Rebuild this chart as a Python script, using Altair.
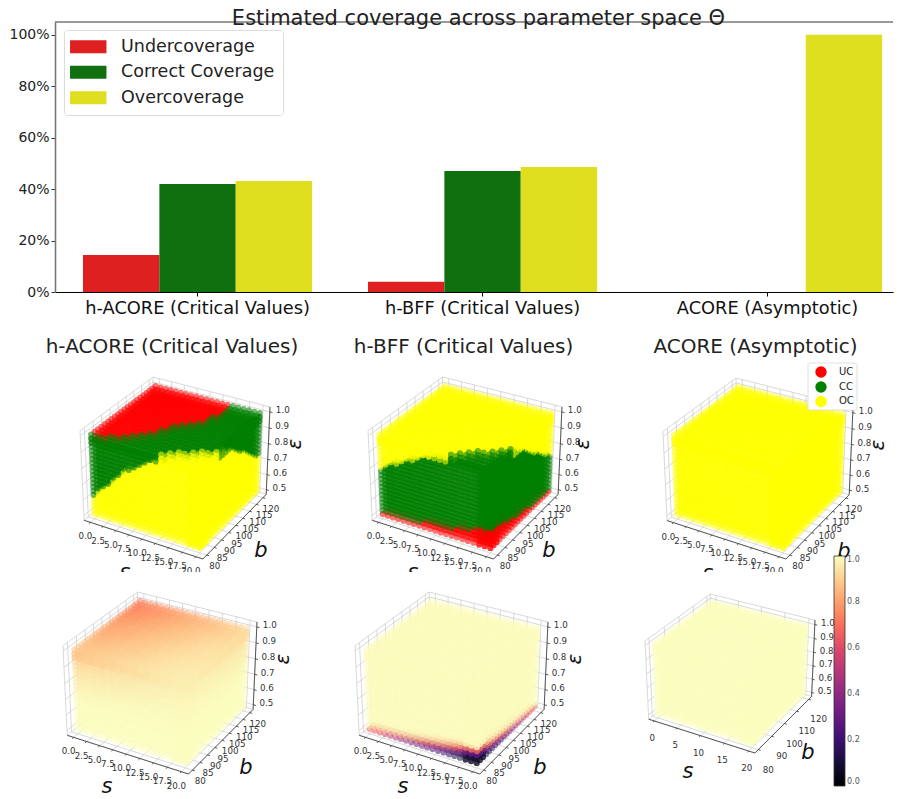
import math
import altair as alt
import numpy as np
import pandas as pd

# ---------- bar chart values ----------
METHODS = ["h-ACORE (Critical Values)", "h-BFF (Critical Values)", "ACORE (Asymptotic)"]
COVERAGE = ["Undercoverage", "Correct Coverage", "Overcoverage"]
BAR_COLORS = ["#df2020", "#107010", "#dfdf20"]
UNDER = [14.4, 4.0, 0.0]
CORRECT = [42.0, 47.1, 0.0]
OVER = [43.2, 48.6, 100.0]

# ---------- parameter grid ----------
S_GRID = [float(i) for i in range(21)]
B_GRID = [80.0 + 2 * i for i in range(21)]
E_GRID = [0.5 + 0.025 * i for i in range(21)]

# ---------- h-ACORE class boundaries ----------
P1_UC_TOP_B = [80, 80.8, 81.6, 82.5, 83.5, 85, 86.5, 89, 91.5, 94, 98, 100, 103, 105.5, 110, 125, 125, 125, 125, 125, 125]
P1_OC_TOP_B = [0, 0, 0, 0, 0, 0, 0, 0, 0, 0, 0, 0, 0, 80.5, 83, 84.5, 85.5, 87, 88.5, 90, 92]
P1_OC_LEFT_E = [.615, .655, .69, .725, .76, .795, .83, .85, .87, .895, .92, .94, .965, .99, 1.01, 1.01, 1.01, 1.01, 1.01, 1.01, 1.01]
P1_OC_RIGHT_E = [1.01, 1.01, 1.01, 1.01, 1.01, 1.01, 1.01, .985, .97, .955, .94, .92, .90, .875, .86, .84, .82, .79, .765, .745, .73]
# ---------- h-BFF class boundaries ----------
P2_CC_TOP_B = [0, 0, 0, 0, 0, 0, 0, 0, 0, 0, 0, 0, 0, 81, 83, 85, 86.5, 88, 89.5, 91, 92.5]
P2_OC_LEFT_E = [.785, .805, .825, .84, .86, .875, .89, .905, .925, .94, .955, .965, .975, .985, .995, 1.01, 1.01, 1.01, 1.01, 1.01, 1.01]
P2_OC_RIGHT_E = [1.01, 1.01, 1.01, 1.01, 1.01, 1.01, 1.01, .985, .965, .945, .925, .905, .885, .865, .85, .83, .81, .79, .77, .75, .735]
P2_UC_LEFT_E = [.515, .515, .515, .52, .52, .52, .525, .525, .53, .53, .535, .54, .54, .55, .555, .56, .57, .58, .59, .60, .61]
P2_UC_RIGHT_E = [.61, .60, .595, .585, .58, .575, .565, .56, .55, .545, .54, .535, .53, .525, .525, .52, .52, .515, .515, .51, .51]

# ---------- estimated coverage values (magma field) ----------
P4_TOP = [  # rows b = 80, 84 .. 120, columns s = 0, 2 .. 20
    [.88, .89, .90, .91, .92, .93, .94, .95, .96, .965, .97],
    [.87, .88, .89, .90, .91, .925, .935, .945, .955, .96, .965],
    [.855, .865, .88, .89, .90, .915, .925, .94, .95, .955, .96],
    [.84, .85, .865, .88, .89, .905, .92, .93, .945, .95, .955],
    [.825, .84, .85, .865, .88, .895, .91, .925, .935, .945, .95],
    [.81, .825, .84, .855, .87, .885, .90, .915, .93, .94, .945],
    [.795, .81, .825, .84, .86, .875, .89, .905, .92, .93, .94],
    [.78, .795, .81, .83, .845, .865, .88, .895, .91, .92, .935],
    [.765, .78, .80, .815, .835, .85, .87, .885, .90, .915, .93],
    [.75, .77, .785, .805, .825, .84, .86, .875, .89, .91, .925],
    [.74, .755, .775, .795, .815, .83, .85, .865, .885, .90, .92],
]
P4_FADE = [0, 0, 0, 0, 0, 0, 0, .03, .06, .1, .15, .2, .27, .33, .42, .5, .6, .7, .8, .9, 1]
P5_BODY = 0.995
P5_LEFT_ROWS = [
    [.70, .66, .62, .58, .54, .50, .46, .42, .38, .34, .31, .28, .25, .22, .19, .16, .13, .11, .09, .07, .05],
    [.98, .97, .96, .95, .94, .92, .90, .88, .85, .80, .74, .68, .62, .55, .48, .40, .33, .26, .20, .15, .10],
    [1, 1, 1, 1, 1, 1, 1, .99, .99, .98, .97, .95, .93, .90, .85, .78, .70, .60, .50, .40, .30],
    [1, 1, 1, 1, 1, 1, 1, 1, 1, 1, 1, .99, .99, .98, .96, .93, .90, .85, .80, .75, .68],
]
P5_RIGHT_ROWS = [
    [.05, .07, .09, .11, .14, .16, .19, .22, .25, .29, .33, .37, .41, .45, .49, .53, .57, .60, .64, .68, .74],
    [.10, .16, .22, .30, .38, .46, .53, .60, .66, .72, .78, .83, .87, .90, .93, .95, .97, .98, .99, 1, 1],
    [.30, .42, .55, .68, .78, .85, .90, .94, .97, .99, 1, 1, 1, 1, 1, 1, 1, 1, 1, 1, 1],
    [.68, .78, .86, .92, .96, .99, 1, 1, 1, 1, 1, 1, 1, 1, 1, 1, 1, 1, 1, 1, 1],
]

# ---------- box ranges and ticks ----------
S_RANGE = (-1.25, 21.25)
B_RANGE = (77.5, 122.5)
E_RANGE = (0.469, 1.031)
S_TICKS = [0, 2.5, 5, 7.5, 10, 12.5, 15, 17.5, 20]
B_TICKS = [80, 85, 90, 95, 100, 105, 110, 115, 120]
E_TICKS = [0.5, 0.6, 0.7, 0.8, 0.9, 1.0]
S_TICKS_COARSE = [0, 5, 10, 15, 20]
B_TICKS_COARSE = [80, 90, 100, 110, 120]

# ---------- page layout, in page pixels ----------
PLOT_X0, PLOT_X1 = 55, 893
PLOT_Y0, PLOT_Y1 = 21, 291
CANVAS_Y1 = 795
FRAMES = {  # x-left, x-right, y-top, y-bottom of each 3D box
    "p1": (80, 270, 376, 558),
    "p2": (368, 562, 376, 558),
    "p3": (663, 853, 377, 558),
    "p4": (63, 257, 591, 773),
    "p5": (355, 548, 591, 773),
    "p6": (645, 815, 593, 752),
}
SUBTITLES = [("h-ACORE (Critical Values)", 172), ("h-BFF (Critical Values)", 463.5), ("ACORE (Asymptotic)", 755.5)]

# ---------- matplotlib style 3D camera ----------
ASPECT = np.array([4, 4, 3]) * 1.8294640721620434 / math.sqrt(41)
R_C = ASPECT / 2
ELEV, AZIM = math.radians(30), math.radians(-60)
EYE = R_C + 10 * np.array([math.cos(ELEV) * math.cos(AZIM), math.cos(ELEV) * math.sin(AZIM), math.sin(ELEV)])
W_V = (EYE - R_C) / np.linalg.norm(EYE - R_C)
U_V = np.cross([0, 0, 1], W_V)
U_V = U_V / np.linalg.norm(U_V)
V_V = np.cross(W_V, U_V)


def raw(nx, ny, nz):
    p = np.array([nx, ny, nz]) * ASPECT - EYE
    d = -p.dot(W_V)
    return p.dot(U_V) / d, p.dot(V_V) / d, d


CORNERS = [raw(a, b, c) for a in (0, 1) for b in (0, 1) for c in (0, 1)]
UMIN, UMAX = min(c[0] for c in CORNERS), max(c[0] for c in CORNERS)
VMIN, VMAX = min(c[1] for c in CORNERS), max(c[1] for c in CORNERS)


def to_page(frame, s, b, e):
    x0, x1, y0, y1 = FRAMES[frame]
    u, v, d = raw((s - S_RANGE[0]) / (S_RANGE[1] - S_RANGE[0]),
                  (b - B_RANGE[0]) / (B_RANGE[1] - B_RANGE[0]),
                  (e - E_RANGE[0]) / (E_RANGE[1] - E_RANGE[0]))
    return x0 + (u - UMIN) / (UMAX - UMIN) * (x1 - x0), y1 - (v - VMIN) / (VMAX - VMIN) * (y1 - y0), d


def shell(frame, color_of, inset=(0, 1, 2)):
    """points on the three visible faces, plus inner copies; color_of(face, i, j) gives the class or value"""
    out = []
    n = len(S_GRID)
    for k in inset:
        rows = []
        for i in range(n):
            for j in range(n):
                rows.append(("top", i, j, S_GRID[i], B_GRID[j], E_GRID[n - 1 - k]))
        for i in range(n):
            for j in range(n - 1 - k):
                rows.append(("left", i, j, S_GRID[i], B_GRID[k], E_GRID[j]))
        for i in range(n):
            for j in range(n - 1 - k):
                rows.append(("right", i, j, S_GRID[n - 1 - k], B_GRID[i], E_GRID[j]))
        for face, i, j, s, b, e in rows:
            x, y, d = to_page(frame, s, b, e)
            out.append(dict(x=round(x, 1), y=round(y, 1), d=round(d, 4), v=color_of(face, i, j)))
    out.sort(key=lambda r: -r["d"])
    return [dict(x=r["x"], y=r["y"], v=r["v"]) for r in out]


RED, GREEN, YELLOW = "#ff0000", "#008000", "#ffff00"


def p1_class(face, i, j):
    if face == "top":
        if B_GRID[j] > P1_UC_TOP_B[i]:
            return RED
        if B_GRID[j] < P1_OC_TOP_B[i]:
            return YELLOW
        return GREEN
    if face == "left":
        return YELLOW if E_GRID[j] < P1_OC_LEFT_E[i] else GREEN
    return YELLOW if E_GRID[j] < P1_OC_RIGHT_E[i] else GREEN


def p2_class(face, i, j):
    if face == "top":
        return GREEN if B_GRID[j] < P2_CC_TOP_B[i] else YELLOW
    e = E_GRID[j]
    if face == "left":
        return RED if e < P2_UC_LEFT_E[i] else (YELLOW if e > P2_OC_LEFT_E[i] else GREEN)
    return RED if e < P2_UC_RIGHT_E[i] else (YELLOW if e > P2_OC_RIGHT_E[i] else GREEN)


def p4_value(face, i, j):
    if face == "top":
        return P4_TOP[j // 2][i // 2]
    if face == "left":
        return 1 - (1 - P4_TOP[0][i // 2]) * P4_FADE[j]
    return 1 - (1 - P4_TOP[i // 2][10]) * P4_FADE[j]


def p5_value(face, i, j):
    if face == "top" or j >= 4:
        return P5_BODY
    return P5_LEFT_ROWS[j][i] if face == "left" else P5_RIGHT_ROWS[j][i]


def fmt(v):
    return f"{v:.1f}"


def box_parts(frame, sticks, bticks, fs=8.7, sfmt=fmt, blabel_off=(8, 11), slabel_off=(-5, 14)):
    grid, axes, texts = [], [], []
    s0, s1 = S_RANGE
    b0, b1 = B_RANGE
    e0, e1 = E_RANGE

    def seg(store, p, q):
        a, b_, _ = to_page(frame, *p)
        c, d, _ = to_page(frame, *q)
        store.append(dict(x=round(a, 1), y=round(b_, 1), x2=round(c, 1), y2=round(d, 1)))

    # pane outlines
    for p, q in [((s0, b0, e0), (s1, b0, e0)), ((s1, b0, e0), (s1, b1, e0)), ((s0, b0, e0), (s0, b1, e0)),
                 ((s0, b1, e0), (s1, b1, e0)), ((s0, b0, e0), (s0, b0, e1)), ((s0, b1, e0), (s0, b1, e1)),
                 ((s1, b1, e0), (s1, b1, e1)), ((s0, b0, e1), (s0, b1, e1)), ((s0, b1, e1), (s1, b1, e1))]:
        seg(grid, p, q)
    for s in sticks:
        seg(grid, (s, b0, e0), (s, b1, e0))
        seg(grid, (s, b1, e0), (s, b1, e1))
        seg(axes, (s, b0, e0), (s, b0 - 0.9, e0))
        x, y, _ = to_page(frame, s, b0, e0)
        texts.append(dict(x=x + slabel_off[0], y=y + slabel_off[1], t=sfmt(s), fs=fs, a=0))
    for b in bticks:
        seg(grid, (s0, b, e0), (s1, b, e0))
        seg(grid, (s0, b, e0), (s0, b, e1))
        seg(axes, (s1, b, e0), (s1 + 0.45, b, e0))
        x, y, _ = to_page(frame, s1, b, e0)
        texts.append(dict(x=x + blabel_off[0], y=y + blabel_off[1], t=str(b), fs=fs, a=0))
    for e in E_TICKS:
        seg(grid, (s0, b0, e), (s0, b1, e))
        seg(grid, (s0, b1, e), (s1, b1, e))
        seg(axes, (s1, b1, e), (s1 + 0.5, b1, e))
        x, y, _ = to_page(frame, s1, b1, e)
        texts.append(dict(x=x + 13, y=y - 1.5, t=fmt(e), fs=fs, a=0))
    seg(axes, (s0, b0, e0), (s1, b0, e0))
    seg(axes, (s1, b0, e0), (s1, b1, e0))
    seg(axes, (s1, b1, e0), (s1, b1, e1))
    return grid, axes, texts


def panel_labels(frame, sx, sy, bx, by, ex, ey):
    x0 = FRAMES[frame][0]
    y0 = FRAMES[frame][2]
    return [dict(x=x0 + sx, y=y0 + sy, t="s", fs=21, a=0), dict(x=x0 + bx, y=y0 + by, t="b", fs=21, a=0),
            dict(x=x0 + ex, y=y0 + ey, t="ε", fs=20, a=270)]


# ---------- assemble tables ----------
rows = {1: dict(grid=[], axes=[], text=[], label=[]), 2: dict(grid=[], axes=[], text=[], label=[])}
for frame, row, st, bt, kw in [
    ("p1", 1, S_TICKS, B_TICKS, {}), ("p2", 1, S_TICKS, B_TICKS, {}), ("p3", 1, S_TICKS, B_TICKS, {}),
    ("p4", 2, S_TICKS, B_TICKS, {}), ("p5", 2, S_TICKS, B_TICKS, {}),
    ("p6", 2, S_TICKS_COARSE, B_TICKS_COARSE, dict(sfmt=lambda v: str(int(v)), blabel_off=(10, 20), slabel_off=(-2, 17))),
]:
    g, a, t = box_parts(frame, st, bt, **kw)
    rows[row]["grid"] += g
    rows[row]["axes"] += a
    rows[row]["text"] += t

rows[1]["label"] += panel_labels("p1", 45, 196, 181, 174, 215, 67)
rows[1]["label"] += panel_labels("p2", 45, 196, 181, 174, 215, 67)
rows[1]["label"] += panel_labels("p3", 45, 196, 181, 174, 215, 67)
rows[2]["label"] += panel_labels("p4", 44, 195, 183, 176, 220, 67)
rows[2]["label"] += panel_labels("p5", 48, 195, 185, 176, 220, 67)
rows[2]["label"] += panel_labels("p6", 43, 178, 163, 159, 0, -999)
rows[2]["label"] = [r for r in rows[2]["label"] if r["y"] > 0]

points_top = (shell("p1", p1_class) + shell("p2", p2_class) + shell("p3", lambda f, i, j: YELLOW))
points_low = (shell("p4", p4_value) + shell("p5", p5_value) + shell("p6", lambda f, i, j: 1.0))

# ---------- canvas scales: one unit is one page pixel ----------
CANVAS_W = PLOT_X1 - PLOT_X0
CANVAS_H = CANVAS_Y1 - PLOT_Y1
XS = alt.Scale(domain=[PLOT_X0, PLOT_X1], nice=False, zero=False)
YS = alt.Scale(domain=[CANVAS_Y1, PLOT_Y1], nice=False, zero=False)
X = alt.X("x:Q", scale=XS, axis=None)
Y = alt.Y("y:Q", scale=YS, axis=None)


def seg_layer(tbl, color, width):
    return alt.Chart(pd.DataFrame(tbl)).mark_rule(color=color, strokeWidth=width).encode(x=X, y=Y, x2="x2:Q", y2="y2:Q")


def text_layer(tbl, color="#333333", italic=False):
    mk = dict(color=color, font="DejaVu Sans", align="center", baseline="middle")
    if italic:
        mk["fontStyle"] = "italic"
    return alt.Chart(pd.DataFrame(tbl)).mark_text(**mk).encode(
        x=X, y=Y, text="t:N", size=alt.Size("fs:Q", scale=None), angle=alt.Angle("a:Q", scale=None))


layers = [
    seg_layer(rows[1]["grid"], "#cfcfcf", 0.8),
    alt.Chart(pd.DataFrame(points_top)).mark_circle(size=38, opacity=0.55).encode(
        x=X, y=Y, color=alt.Color("v:N", scale=None)),
    seg_layer(rows[1]["axes"], "#333333", 0.8),
    text_layer(rows[1]["text"]),
    text_layer(rows[1]["label"], "#111111", italic=True),
    alt.Chart(pd.DataFrame([dict(x=PLOT_X0, x2=PLOT_X1, y=571, y2=586)])).mark_rect(color="white").encode(
        x=X, y=Y, x2="x2:Q", y2="y2:Q"),
    seg_layer(rows[2]["grid"], "#cfcfcf", 0.8),
    alt.Chart(pd.DataFrame(points_low)).mark_circle(size=38, opacity=0.55).encode(
        x=X, y=Y,
        color=alt.Color("v:Q", scale=alt.Scale(scheme="magma", domain=[0, 1]),
                        legend=alt.Legend(type="gradient", orient="none", legendX=834 - PLOT_X0, legendY=555 - PLOT_Y1,
                                          direction="vertical", gradientLength=230, gradientThickness=11,
                                          gradientOpacity=1, title=None, values=[0, .2, .4, .6, .8, 1], format=".1f",
                                          labelFontSize=8, labelColor="#555555", labelFont="DejaVu Sans",
                                          gradientStrokeColor="#333333", gradientStrokeWidth=0.8))),
    seg_layer(rows[2]["axes"], "#333333", 0.8),
    text_layer(rows[2]["text"]),
    text_layer(rows[2]["label"], "#111111", italic=True),
    text_layer([dict(x=x, y=346, t=t, fs=20, a=0) for t, x in SUBTITLES], "#222222"),
    # scatter legend
    alt.Chart(pd.DataFrame([dict(x=808, x2=857, y=362, y2=409)])).mark_rect(
        fill="white", stroke="#d8d8d8", strokeWidth=0.8, cornerRadius=2).encode(x=X, y=Y, x2="x2:Q", y2="y2:Q"),
    alt.Chart(pd.DataFrame([dict(x=821, y=371, v=RED), dict(x=821, y=386, v=GREEN), dict(x=821, y=400.5, v=YELLOW)])).mark_circle(
        size=130, opacity=1).encode(x=X, y=Y, color=alt.Color("v:N", scale=None)),
    alt.Chart(pd.DataFrame([dict(x=839, y=370.5, t="UC"), dict(x=839, y=385.5, t="CC"), dict(x=839, y=400, t="OC")])).mark_text(
        align="left", baseline="middle", font="DejaVu Sans", fontSize=10, color="#222222").encode(x=X, y=Y, text="t:N"),
]
canvas = alt.layer(*layers).properties(width=CANVAS_W, height=CANVAS_H).resolve_scale(color="independent")

# ---------- bar chart ----------
bar_rows = []
for m, u, c, o in zip(METHODS, UNDER, CORRECT, OVER):
    for name, val in zip(COVERAGE, (u, c, o)):
        bar_rows.append(dict(method=m, coverage=name, value=val))
bar_df = pd.DataFrame(bar_rows)

bars = alt.Chart(bar_df).mark_bar().encode(
    x=alt.X("method:N", sort=METHODS, title=None,
            scale=alt.Scale(paddingInner=0.196, paddingOuter=0.0682, align=0.72),
            axis=alt.Axis(labelAngle=0, labelFontSize=17.8, labelColor="#111111", labelFont="DejaVu Sans", labelLimit=0,
                          domainColor="black", domainWidth=1.2, tickColor="black", tickSize=4, labelPadding=3, grid=False)),
    xOffset=alt.XOffset("coverage:N", sort=COVERAGE, scale=alt.Scale(paddingInner=0, paddingOuter=0)),
    y=alt.Y("value:Q", title=None, scale=alt.Scale(domain=[0, 105], nice=False),
            axis=alt.Axis(values=[0, 20, 40, 60, 80, 100], labelExpr="datum.value + '%'", labelFontSize=14,
                          labelColor="#222222", labelFont="DejaVu Sans", domainColor="#777777", domainWidth=1.6,
                          tickColor="#333333", tickSize=4, grid=False)),
    color=alt.Color("coverage:N", sort=COVERAGE, scale=alt.Scale(domain=COVERAGE, range=BAR_COLORS),
                    legend=alt.Legend(orient="none", legendX=9, legendY=8, title=None, labelFontSize=17.5,
                                      labelFont="DejaVu Sans", labelColor="#222222",
                                      symbolType="M-2.8,-1L2.8,-1L2.8,1L-2.8,1Z", symbolSize=169, symbolStrokeWidth=0,
                                      symbolOffset=7.5, fillColor="white", strokeColor="#dcdcdc", cornerRadius=3, padding=8,
                                      rowPadding=6.5, labelOffset=24, symbolOpacity=1, offset=0)),
)
top_rule = alt.Chart(pd.DataFrame({"y": [105]})).mark_rule(color="#777777", strokeWidth=1.4).encode(y=alt.Y("y:Q"))
title = alt.Chart(pd.DataFrame({"t": ["Estimated coverage across parameter space \u0398"]})).mark_text(
    font="DejaVu Sans", fontSize=21, color="#222222", align="center", baseline="alphabetic").encode(
    x=alt.value(478.5 - PLOT_X0), y=alt.value(2.5), text="t:N")
bar_chart = alt.layer(bars, top_rule, title).properties(width=CANVAS_W, height=PLOT_Y1 - PLOT_Y0)

chart = alt.vconcat(bar_chart, canvas, spacing=0, bounds="flush").properties(
    padding={"top": -1, "left": 0, "right": 0, "bottom": 0}).resolve_scale(color="independent").configure_view(stroke=None)

chart.save("out.html", embed_options={"renderer": "svg", "actions": False})
